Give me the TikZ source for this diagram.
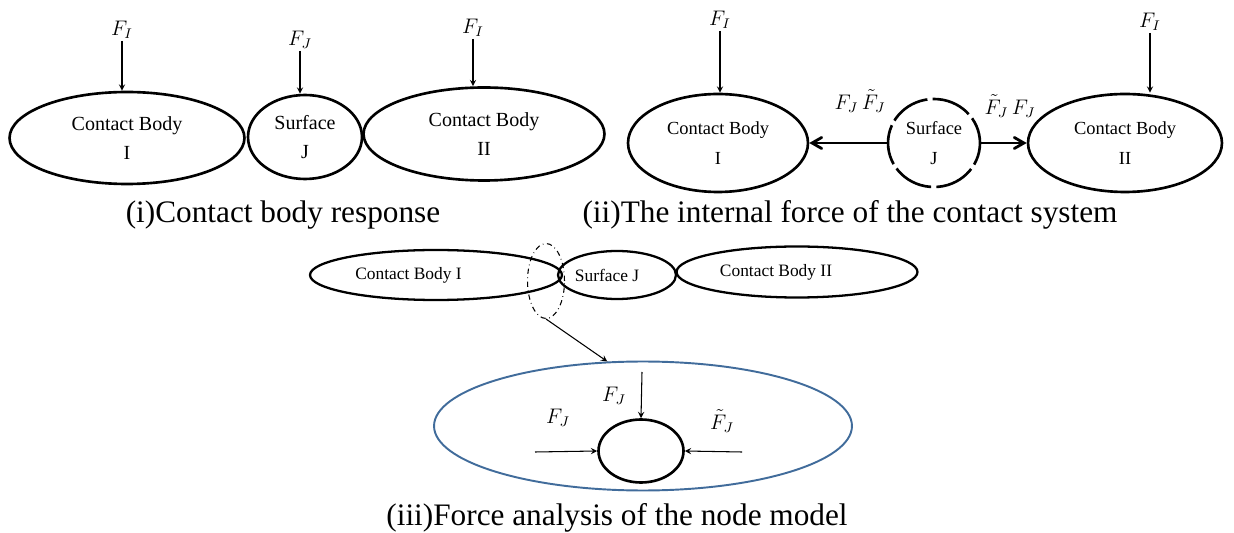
\documentclass[tikz,border=0pt]{standalone}
\usepackage{fontspec}
\setmainfont{Liberation Serif}
\usetikzlibrary{shapes.geometric,arrows}
\definecolor{ringblue}{RGB}{65,108,155}
\tikzstyle{body} = [ellipse, draw=black, line width=1.5pt, inner sep=0pt, align=center]
\tikzstyle{force} = [inner sep=1pt, font=\fontsize{11.5}{13}\selectfont]
\tikzstyle{caption} = [inner sep=0pt, font=\fontsize{17.8}{20}\selectfont]
\tikzstyle{arrow} = [->,>=stealth, line width=0.6pt]
\tikzstyle{bigarrow} = [->,>=angle 60, line width=1.6pt]

\begin{document}
\begin{tikzpicture}[x=0.02cm,y=-0.02cm]
\useasboundingbox (0,0) rectangle (1234,533);
% (i) contact body response
\node (bodyA)[body, minimum width=4.7cm, minimum height=1.84cm, font=\fontsize{11.4}{17}\selectfont] at (127,138) {Contact Body\\I};
\node (surfA)[body, minimum width=2.28cm, minimum height=1.68cm, font=\fontsize{11.4}{17}\selectfont] at (305,137) {Surface\\J};
\node (bodyB)[body, minimum width=4.82cm, minimum height=1.86cm, font=\fontsize{11.4}{17}\selectfont] at (484,134) {Contact Body\\II};
\node (fIa)[force] at (122,30) {$F_I$};
\node (fJa)[force] at (300,40) {$F_J$};
\node (fIb)[force] at (473,28) {$F_I$};
\draw [arrow](fIa.south) -- (fIa.south |- bodyA.north);
\draw [arrow](fJa.south) -- (fJa.south |- surfA.north);
\draw [arrow](fIb.south) -- (fIb.south |- bodyB.north);
\node (capA)[caption] at (283,215) {(i)Contact body response};
% (ii) internal force of the contact system
\node (bodyC)[body, minimum width=3.6cm, minimum height=1.96cm, font=\fontsize{10.5}{17.5}\selectfont] at (718,143) {Contact Body\\I};
\node (surfC)[body, minimum width=1.84cm, minimum height=1.76cm, dash pattern=on 23pt off 3pt, dash phase=8pt, font=\fontsize{10.5}{17.5}\selectfont] at (934,143) {Surface\\J};
\node (bodyD)[body, minimum width=3.88cm, minimum height=1.96cm, font=\fontsize{10.5}{17.5}\selectfont] at (1125,143) {Contact Body\\II};
\node (fIc)[force] at (720,20) {$F_I$};
\node (fId)[force] at (1150,22) {$F_I$};
\draw [arrow](fIc.south) -- (fIc.south |- bodyC.north);
\draw [arrow](fId.south) -- (fId.south |- bodyD.north);
\node (pairL)[force] at (860,101) {$F_J\,\tilde{F}_J$};
\node (pairR)[force] at (1010,106) {$\tilde{F}_J\,F_J$};
\draw [bigarrow](surfC) -- (bodyC);
\draw [bigarrow](surfC) -- (bodyD);
\node (capB)[caption] at (850,215) {(ii)The internal force of the contact system};
% (iii) force analysis of the node model
\node (bodyE)[body, line width=1.3pt, minimum width=5.04cm, minimum height=1cm, font=\fontsize{9.9}{11}\selectfont] at (436,275) {\makebox[0pt]{Contact Body I\hspace{1.1cm}}};
\node (surfE)[body, line width=1.3pt, minimum width=2.36cm, minimum height=0.96cm, font=\fontsize{9.9}{11}\selectfont] at (617,275) {\makebox[0pt]{Surface J\hspace{0.4cm}}};
\node (bodyF)[body, line width=1.3pt, minimum width=4.82cm, minimum height=1.02cm, font=\fontsize{9.9}{11}\selectfont] at (797,272) {\makebox[0pt]{Contact Body II\hspace{0.84cm}}};
\node (zoomring)[ellipse, draw, dash dot, line width=0.6pt, inner sep=0pt, minimum width=0.74cm, minimum height=1.5cm] at (546,281) {};
\node (detail)[ellipse, draw=ringblue, line width=1.1pt, inner sep=0pt, minimum width=8.36cm, minimum height=2.58cm] at (643,426) {};
\node (nodeJ)[ellipse, draw, line width=1.5pt, inner sep=0pt, minimum width=1.7cm, minimum height=1.26cm] at (641,451) {};
\draw [arrow](zoomring.south) -- (detail.119);
\coordinate (topin) at (642,372);
\coordinate (leftin) at (535,452);
\coordinate (rightin) at (742,452);
\draw [arrow](topin) -- (nodeJ.north);
\draw [arrow](leftin) -- (nodeJ.west);
\draw [arrow](rightin) -- (nodeJ.east);
\node (fJtop)[force] at (614,396) {$F_J$};
\node (fJleft)[force] at (558,418) {$F_J$};
\node (fJright)[force] at (722,421) {$\tilde{F}_J$};
\node (capC)[caption] at (617,518) {(iii)Force analysis of the node model};
\end{tikzpicture}
\end{document}
